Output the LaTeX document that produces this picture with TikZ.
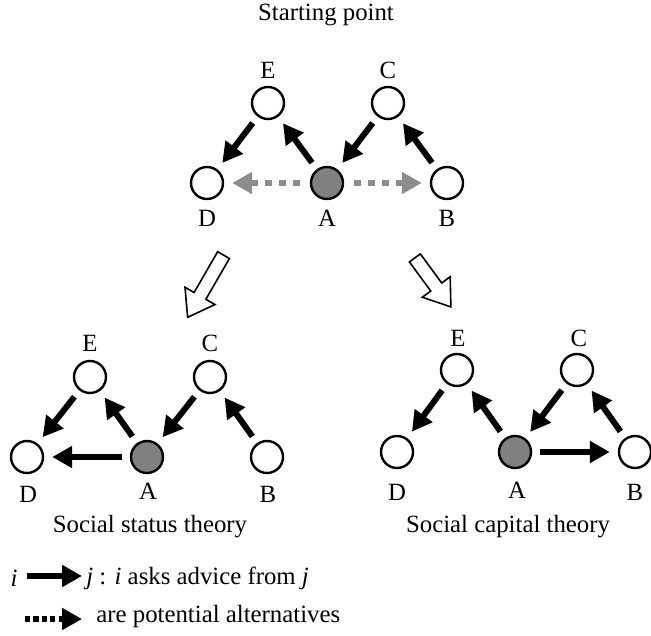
\documentclass[tikz,border=0pt]{standalone}
\usepackage{fontspec}
\setmainfont{Liberation Serif}
\usetikzlibrary{arrows.meta,shapes.arrows}
\definecolor{focalgray}{HTML}{808080}
\definecolor{altgray}{HTML}{8C8C8C}
\begin{document}
\begin{tikzpicture}[x=0.5pt,y=-0.5pt,
  every node/.style={font=\fontsize{12.4}{14}\selectfont},
  agent/.style={circle,draw,line width=1.2pt,minimum size=16pt,inner sep=0pt,fill=white},
  focal/.style={agent,fill=focalgray},
  lab/.style={inner sep=0pt},
  head/.style={-{Triangle[length=10pt,width=10.5pt]}},
  ask/.style={head,line width=3pt,shorten <=4pt,shorten >=4pt},
  alt/.style={head,line width=3pt,dash pattern=on 3.3pt off 3.7pt,draw=altgray,fill=altgray,shorten <=5pt,shorten >=4pt},
  bigarrow/.style={single arrow,draw,line width=0.8pt,inner sep=3pt,minimum width=16.5pt,single arrow head extend=5.25pt,single arrow tip angle=70}
]
\useasboundingbox (0,0) rectangle (651,635);

% ---- Starting point ----
\node[lab] (title) at (326,15) {Starting point};
\node[agent] (tE) at (268,103) {};
\node[agent] (tC) at (388,103) {};
\node[agent] (tD) at (207,183) {};
\node[focal] (tA) at (327,183) {};
\node[agent] (tB) at (447,183) {};
\node[lab] (tEl) at (268,70) {E};
\node[lab] (tCl) at (388,70) {C};
\node[lab] (tDl) at (207,218) {D};
\node[lab] (tAl) at (327,218) {A};
\node[lab] (tBl) at (447,218) {B};
\draw[ask] (tE) -- (tD);
\draw[ask] (tA) -- (tE);
\draw[ask] (tC) -- (tA);
\draw[ask] (tB) -- (tC);
\draw[alt] (tA) -- (tD);
\draw[alt] (tA) -- (tB);

% ---- hollow arrows ----
\node[bigarrow,minimum height=35.9pt,rotate=240] (hl) at (208,282) {};
\node[bigarrow,minimum height=30.4pt,rotate=-53.7] (hr) at (430,278.5) {};

% ---- Social status theory ----
\node[agent] (lE) at (90,377) {};
\node[agent] (lC) at (210,377) {};
\node[agent] (lD) at (27,457) {};
\node[focal] (lA) at (147,457) {};
\node[agent] (lB) at (267,457) {};
\node[lab] (lEl) at (90,343) {E};
\node[lab] (lCl) at (210,343) {C};
\node[lab] (lDl) at (28,494) {D};
\node[lab] (lAl) at (148,491) {A};
\node[lab] (lBl) at (268,494) {B};
\draw[ask] (lE) -- (lD);
\draw[ask] (lA) -- (lE);
\draw[ask] (lC) -- (lA);
\draw[ask] (lB) -- (lC);
\draw[ask] (lA) -- (lD);
\node[lab] (lt) at (150,527) {Social status theory};

% ---- Social capital theory ----
\node[agent] (rE) at (457,370) {};
\node[agent] (rC) at (577,370) {};
\node[agent] (rD) at (397,452) {};
\node[focal] (rA) at (515,452) {};
\node[agent] (rB) at (635,452) {};
\node[lab] (rEl) at (458,338) {E};
\node[lab] (rCl) at (579,338) {C};
\node[lab] (rDl) at (397,492) {D};
\node[lab] (rAl) at (517,490) {A};
\node[lab] (rBl) at (635,492) {B};
\draw[ask] (rE) -- (rD);
\draw[ask] (rA) -- (rE);
\draw[ask] (rC) -- (rA);
\draw[ask] (rB) -- (rC);
\draw[ask] (rA) -- (rB);
\node[lab] (rt) at (508,527) {Social capital theory};

% ---- legend ----
\node[lab] (gi) at (14,578) {\textit{i}};
\node[lab,anchor=west] (gtext) at (86,578) {\textit{j} : \textit{i} asks advice from \textit{j}};
\coordinate (ga) at (27,576);
\coordinate (gb) at (82,576);
\draw[head,line width=3pt] (ga) -- (gb);
\coordinate (gd) at (25,619);
\coordinate (ge) at (82,619);
\node[lab,anchor=west] (gtext2) at (96,617) {are potential alternatives};
\draw[head,line width=2.6pt,dash pattern=on 2.6pt off 1.6pt] (gd) -- (ge);
\end{tikzpicture}
\end{document}
